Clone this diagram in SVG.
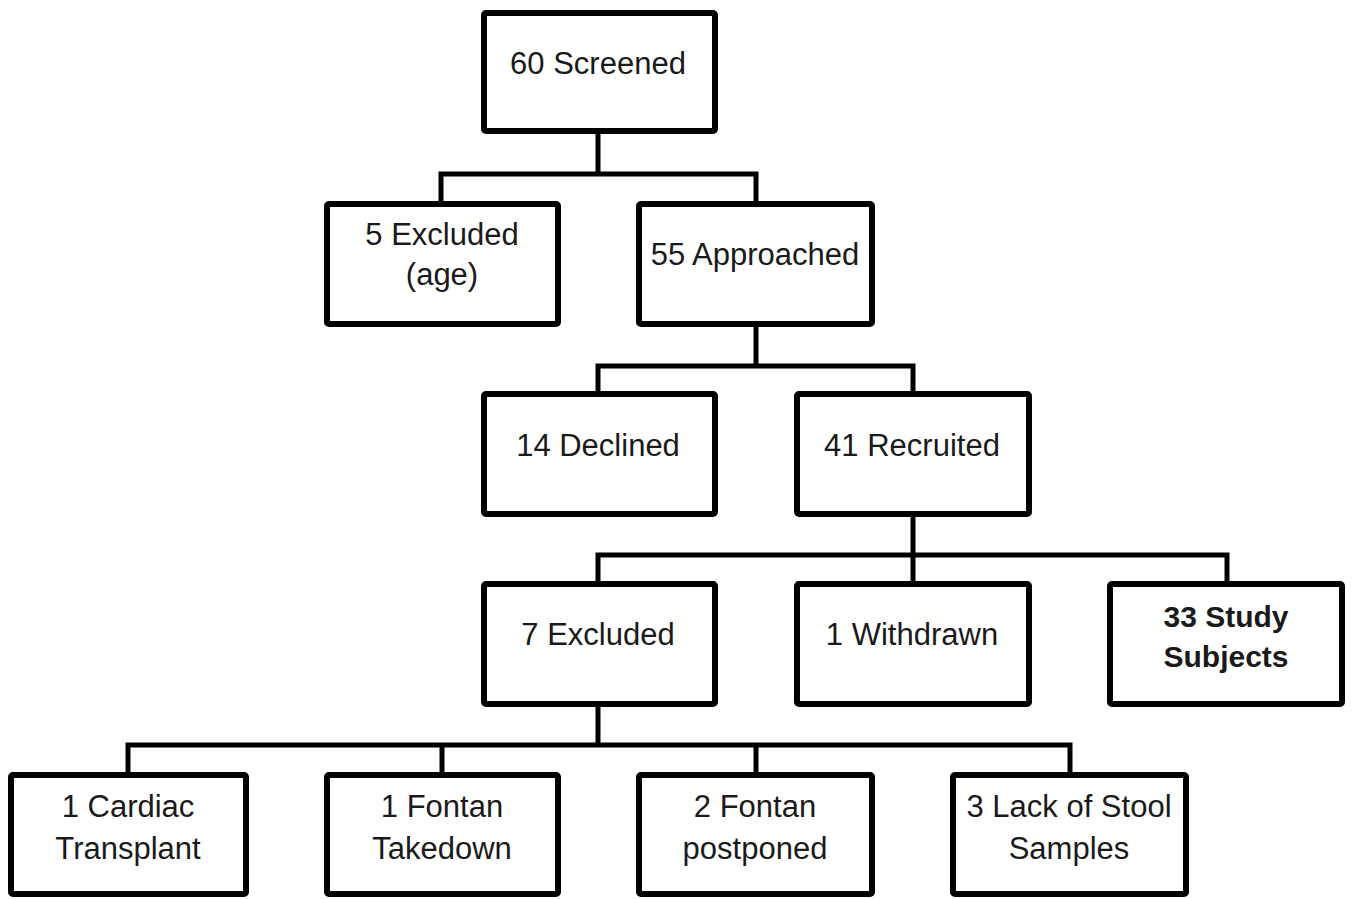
<svg xmlns="http://www.w3.org/2000/svg" width="1354" height="899" viewBox="0 0 1354 899">
<style>
.box{fill:#fff;stroke:#000;stroke-width:6;stroke-linejoin:round}
.conn{fill:none;stroke:#000;stroke-width:5;stroke-linejoin:miter}
text{font-family:"Liberation Sans",Arial,sans-serif;font-size:31px;fill:#1a1a1a;text-anchor:middle}
.b{font-weight:bold;font-size:30px}
</style>
<rect width="1354" height="899" fill="#fff"/>
<g id="connectors">
<path class="conn" d="M598 133V174M441 204V174H756V204"/>
<path class="conn" d="M756 324V366M598 394V366H913V394"/>
<path class="conn" d="M913 514V555M598 584V555H1227V584M913 555V584"/>
<path class="conn" d="M598 704V745M128 775V745H1070V775M442 745V775M756 745V775"/>
</g>
<g id="n1"><rect class="box" x="484" y="13" width="231" height="118" rx="2"/><text x="598" y="74">60 Screened</text></g>
<g id="n2"><rect class="box" x="327" y="204" width="231" height="120" rx="2"/><text x="442" y="245">5 Excluded</text><text x="442" y="285">(age)</text></g>
<g id="n3"><rect class="box" x="639" y="204" width="233" height="120" rx="2"/><text x="755" y="265">55 Approached</text></g>
<g id="n4"><rect class="box" x="484" y="394" width="231" height="120" rx="2"/><text x="598" y="456">14 Declined</text></g>
<g id="n5"><rect class="box" x="797" y="394" width="232" height="120" rx="2"/><text x="912" y="456">41 Recruited</text></g>
<g id="n6"><rect class="box" x="484" y="584" width="231" height="120" rx="2"/><text x="598" y="645">7 Excluded</text></g>
<g id="n7"><rect class="box" x="797" y="584" width="232" height="120" rx="2"/><text x="912" y="645">1 Withdrawn</text></g>
<g id="n8"><rect class="box" x="1110" y="584" width="232" height="120" rx="2"/><text class="b" x="1226" y="627">33 Study</text><text class="b" x="1226" y="667">Subjects</text></g>
<g id="n9"><rect class="box" x="11" y="775" width="235" height="119" rx="2"/><text x="128" y="817">1 Cardiac</text><text x="128" y="859">Transplant</text></g>
<g id="n10"><rect class="box" x="327" y="775" width="231" height="119" rx="2"/><text x="442" y="817">1 Fontan</text><text x="442" y="859">Takedown</text></g>
<g id="n11"><rect class="box" x="639" y="775" width="233" height="119" rx="2"/><text x="755" y="817">2 Fontan</text><text x="755" y="859">postponed</text></g>
<g id="n12"><rect class="box" x="953" y="775" width="233" height="119" rx="2"/><text x="1069" y="817">3 Lack of Stool</text><text x="1069" y="859">Samples</text></g>
</svg>
